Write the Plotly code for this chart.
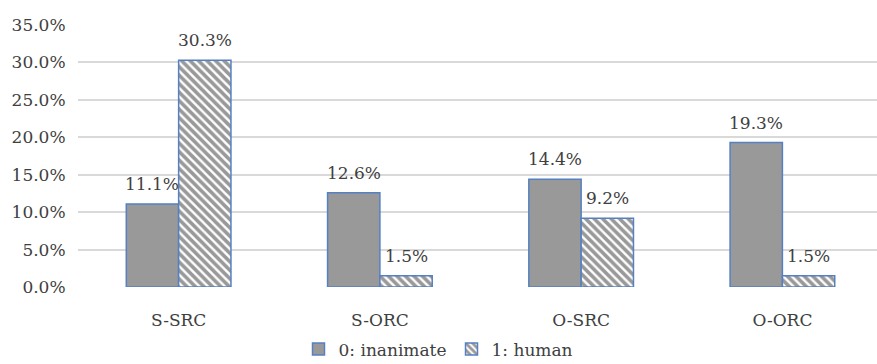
import plotly.graph_objects as go

categories = ["S-SRC", "S-ORC", "O-SRC", "O-ORC"]
inanimate = [11.1, 12.6, 14.4, 19.3]
human = [30.3, 1.5, 9.2, 1.5]
y_ticks = [0, 5, 10, 15, 20, 25, 30, 35]
y_tick_labels = [f"{v:.1f}%" for v in y_ticks]

FONT = "DejaVu Serif"
TEXT = "#404040"
EDGE = "#5580c2"
SIZE = 17
BARGAP = 0.48

fig = go.Figure()
fig.add_trace(go.Bar(
    name="0: inanimate", x=categories, y=inanimate,
    marker=dict(color="#999999", line=dict(color=EDGE, width=1.5)),
))
fig.add_trace(go.Bar(
    name="1: human", x=categories, y=human,
    marker=dict(color="white", line=dict(color=EDGE, width=1.5),
                pattern=dict(shape="\\", fgcolor="#333333", bgcolor="white",
                             size=6, solidity=0.6)),
))

# value labels above each bar, centred on the bar within its group
half = (1 - BARGAP) / 4
for offset, series in ((-half, inanimate), (half, human)):
    for i, v in enumerate(series):
        fig.add_annotation(x=i + offset, y=v, text=f"{v:.1f}%",
                           showarrow=False, yanchor="bottom", yshift=8,
                           font=dict(family=FONT, size=SIZE, color=TEXT))

fig.update_layout(
    width=877, height=364,
    margin=dict(l=78, r=0, t=25, b=77, autoexpand=False),
    paper_bgcolor="white", plot_bgcolor="white",
    barmode="group", bargap=BARGAP, bargroupgap=0,
    font=dict(family=FONT, size=SIZE, color=TEXT),
    legend=dict(orientation="h", xref="container", yref="container",
                x=0.5, xanchor="center", y=0.04, yanchor="middle",
                font=dict(family=FONT, size=SIZE, color=TEXT),
                itemwidth=30, traceorder="normal"),
    showlegend=True,
)
fig.update_xaxes(range=[-0.5, 3.47], showgrid=False, zeroline=False,
                 showline=False, ticks="outside", ticklen=18,
                 tickcolor="rgba(0,0,0,0)",
                 tickfont=dict(family=FONT, size=SIZE, color=TEXT))
fig.update_yaxes(range=[0, 35], tickvals=y_ticks, ticktext=y_tick_labels,
                 showgrid=True, gridcolor="#d9d9d9", gridwidth=1.5,
                 zeroline=False, showline=False, ticks="outside",
                 ticklen=8, tickcolor="rgba(0,0,0,0)",
                 tickfont=dict(family=FONT, size=SIZE, color=TEXT))

fig.write_html("out.html")
